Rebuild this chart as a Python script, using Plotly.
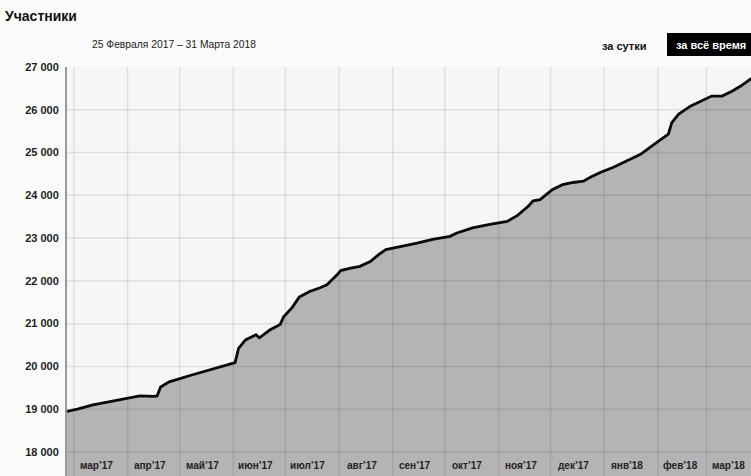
import plotly.graph_objects as go
import pandas as pd

# Cumulative participant count by date
dates = [
    "2017-02-25", "2017-03-03", "2017-03-12", "2017-03-22", "2017-04-01",
    "2017-04-08", "2017-04-16", "2017-04-18", "2017-04-20", "2017-04-25",
    "2017-05-08", "2017-05-18", "2017-05-28", "2017-06-02", "2017-06-04",
    "2017-06-08", "2017-06-14", "2017-06-16", "2017-06-22", "2017-06-28",
    "2017-06-30", "2017-07-05", "2017-07-09", "2017-07-15", "2017-07-21",
    "2017-07-25", "2017-07-31", "2017-08-02", "2017-08-07", "2017-08-13",
    "2017-08-19", "2017-08-24", "2017-08-28", "2017-09-05", "2017-09-15",
    "2017-09-24", "2017-10-04", "2017-10-08", "2017-10-17", "2017-10-27",
    "2017-11-06", "2017-11-12", "2017-11-18", "2017-11-21", "2017-11-25",
    "2017-12-02", "2017-12-08", "2017-12-14", "2017-12-20", "2017-12-24",
    "2017-12-30", "2018-01-06", "2018-01-14", "2018-01-22", "2018-01-28",
    "2018-02-04", "2018-02-07", "2018-02-09", "2018-02-13", "2018-02-20",
    "2018-02-26", "2018-03-04", "2018-03-10", "2018-03-16", "2018-03-21",
    "2018-03-27", "2018-03-31",
]
participants = [
    18950, 19000, 19100, 19180, 19260,
    19310, 19300, 19310, 19520, 19640,
    19800, 19920, 20040, 20090, 20420,
    20620, 20740, 20670, 20850, 20980,
    21160, 21380, 21620, 21750, 21840,
    21910, 22150, 22240, 22290, 22340,
    22450, 22620, 22730, 22790, 22880,
    22970, 23040, 23120, 23240, 23320,
    23390, 23530, 23740, 23870, 23900,
    24130, 24250, 24300, 24330, 24420,
    24540, 24650, 24800, 24960, 25140,
    25330, 25430, 25700, 25900, 26090,
    26200, 26320, 26320, 26440, 26560,
    26740, 26850,
]

# Axis ticks
y_ticks = [18000, 19000, 20000, 21000, 22000, 23000, 24000, 25000, 26000, 27000]
y_tick_text = ["18 000", "19 000", "20 000", "21 000", "22 000", "23 000",
               "24 000", "25 000", "26 000", "27 000"]
month_starts = pd.date_range("2017-03-01", "2018-03-01", freq="MS")
month_labels = ["мар’17", "апр’17", "май’17", "июн’17", "июл’17", "авг’17",
                "сен’17", "окт’17", "ноя’17", "дек’17", "янв’18", "фев’18", "мар’18"]

W, H = 751, 476
L, T = 67, 67
x_range = ["2017-02-25", "2018-03-26 17:00"]
y_range = [17438, 27000]
FONT = "Liberation Sans"

fig = go.Figure()
fig.add_trace(go.Scatter(
    x=dates, y=participants, mode="lines",
    line=dict(color="#0a0a0a", width=2.8),
    fill="tozeroy", fillcolor="#b4b4b4",
    hoverinfo="skip", showlegend=False,
))

# Grid drawn over the filled area
grid = dict(color="rgba(0,0,0,0.09)", width=1.5)
for v in y_ticks[:-1]:
    fig.add_shape(type="line", xref="paper", x0=0, x1=1, yref="y", y0=v, y1=v,
                  line=grid, layer="above")
for d in month_starts:
    fig.add_shape(type="line", xref="x", x0=d, x1=d, yref="paper", y0=0, y1=1,
                  line=grid, layer="above")

# Month labels inside the plot, near the bottom
for d, lab in zip(month_starts, month_labels):
    fig.add_annotation(x=d + pd.Timedelta(days=13), xref="x", y=0.025, yref="paper",
                       text=lab, showarrow=False, xanchor="center", yanchor="middle",
                       font=dict(family=FONT, size=10, color="#222222", weight="bold"))

def px_x(px):
    return (px - L) / (W - L)

def px_y(py):
    return (H - py) / (H - T)

# Header: date span and period switcher
fig.add_annotation(x=px_x(90), y=px_y(44), xref="paper", yref="paper",
                   text="25 Февраля 2017 – 31 Марта 2018", showarrow=False,
                   xanchor="left", yanchor="middle",
                   font=dict(family=FONT, size=10.3, color="#1a1a1a"))
fig.add_annotation(x=px_x(624), y=px_y(46), xref="paper", yref="paper",
                   text="за сутки", showarrow=False, xanchor="center", yanchor="middle",
                   font=dict(family=FONT, size=11, color="#111111", weight="bold"))
fig.add_shape(type="rect", xref="paper", yref="paper",
              x0=px_x(667), x1=px_x(760), y0=px_y(56), y1=px_y(33),
              fillcolor="#000000", line=dict(width=0), layer="above")
fig.add_annotation(x=px_x(674), y=px_y(45), xref="paper", yref="paper",
                   text="за всё время", showarrow=False, xanchor="left", yanchor="middle",
                   font=dict(family=FONT, size=11, color="#ffffff", weight="bold"))

fig.update_layout(
    width=W, height=H,
    margin=dict(l=L, r=0, t=T, b=0, pad=0),
    paper_bgcolor="#fbfbfb", plot_bgcolor="#f6f6f6",
    title=dict(text="<b>Участники</b>", x=5 / W, xanchor="left", xref="container",
               y=1 - 16 / H, yanchor="middle", yref="container",
               font=dict(family=FONT, size=14, color="#111111")),
    xaxis=dict(type="date", range=x_range, showgrid=False, zeroline=False,
               showticklabels=False, ticks="", showline=False, fixedrange=True),
    yaxis=dict(range=y_range, tickvals=y_ticks, ticktext=y_tick_text,
               showgrid=False, zeroline=False, ticks="", ticklabelstandoff=4,
               showline=True, linecolor="#9a9a9a", linewidth=2,
               tickfont=dict(family=FONT, size=11, color="#1e1e1e", weight="bold")),
    showlegend=False,
)

fig.write_html("out.html")
